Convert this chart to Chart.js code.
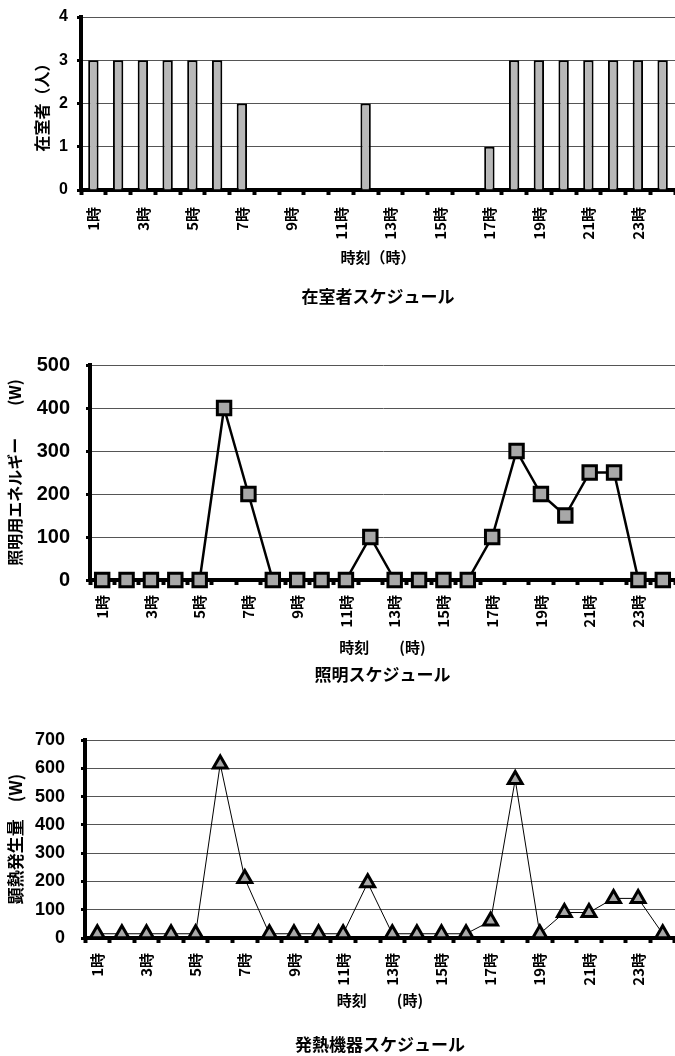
<!DOCTYPE html>
<html lang="ja">
<head>
<meta charset="utf-8">
<script src="https://cdn.jsdelivr.net/npm/chart.js@4.4.1/dist/chart.umd.min.js"></script>
<style>
  html, body { margin: 0; padding: 0; background: #fff; }
  body { width: 675px; height: 1056px; position: relative; overflow: hidden; }
  canvas { position: absolute; left: 0; }
</style>
</head>
<body>
<canvas id="occChart" width="675" height="310" style="top:0px"></canvas>
<canvas id="lightChart" width="675" height="350" style="top:340px"></canvas>
<canvas id="heatChart" width="675" height="331" style="top:725px"></canvas>
<script>
// 時刻（1時〜24時）
const hours = ['1時', '2時', '3時', '4時', '5時', '6時', '7時', '8時', '9時', '10時', '11時', '12時',
               '13時', '14時', '15時', '16時', '17時', '18時', '19時', '20時', '21時', '22時', '23時', '24時'];

// 在室者（人）
const occupants = [3, 3, 3, 3, 3, 3, 2, 0, 0, 0, 0, 2, 0, 0, 0, 0, 1, 3, 3, 3, 3, 3, 3, 3];

// 照明用エネルギー（W）
const lighting = [0, 0, 0, 0, 0, 400, 200, 0, 0, 0, 0, 100, 0, 0, 0, 0, 100, 300, 200, 150, 250, 250, 0, 0];

// 顕熱発生量（W）
const heat = [15, 15, 15, 15, 15, 615, 210, 15, 15, 15, 15, 195, 15, 15, 15, 15, 60, 560, 15, 90, 90, 140, 140, 15];

// 軸の範囲 [最大, 目盛間隔]
const occRange = [4, 1];
const lightRange = [500, 100];
const heatRange = [700, 100];

const JP = "'Noto Sans CJK JP', sans-serif";
const NUM = "'Liberation Sans', Arial, sans-serif";

Chart.defaults.color = '#000';

// 横軸（奇数時のみラベル表示）
function xAxis(height, titleText, titlePad, tickPad) {
    return {
        offset: true,
        afterFit: scale => {
            scale.height = height;
            scale.paddingLeft = 0;
            scale.paddingRight = 0;
        },
        border: { color: '#000', width: 4 },
        grid: {
            offset: true,
            drawOnChartArea: false,
            tickLength: 5,
            tickWidth: 4,
            tickColor: '#000'
        },
        ticks: {
            autoSkip: false,
            minRotation: 90,
            maxRotation: 90,
            padding: tickPad,
            font: { family: JP, size: 15, weight: 'bold' },
            callback: (value, index) => index % 2 === 0 ? hours[index] : ''
        },
        title: {
            display: true,
            text: titleText,
            font: { family: JP, size: 15, weight: 'bold' },
            padding: { top: 0, bottom: titlePad }
        }
    };
}

// 縦軸
function yAxis(range, width, tickSize, tickPad, titleText, titleSize, titlePad) {
    return {
        min: 0,
        max: range[0],
        afterFit: scale => {
            scale.width = width;
            scale.paddingTop = 0;
            scale.paddingBottom = 0;
        },
        border: { color: '#000', width: 4 },
        grid: {
            color: '#555',
            lineWidth: 1,
            tickLength: 4,
            tickWidth: 3,
            tickColor: '#000'
        },
        ticks: {
            stepSize: range[1],
            padding: tickPad,
            font: { family: NUM, size: tickSize, weight: 'bold' }
        },
        title: {
            display: true,
            text: titleText,
            font: { family: JP, size: titleSize, weight: 'bold' },
            padding: { top: titlePad, bottom: 0 }
        }
    };
}

function bottomTitle(text, padBottom) {
    return {
        display: true,
        position: 'bottom',
        fullSize: false,
        text: text,
        color: '#000',
        font: { family: JP, size: 17, weight: 'bold' },
        padding: { top: 0, bottom: padBottom }
    };
}

// 在室者スケジュール
new Chart(document.getElementById('occChart'), {
    type: 'bar',
    data: {
        labels: hours,
        datasets: [{
            data: occupants,
            backgroundColor: '#b8b8b8',
            borderColor: '#000',
            borderWidth: 2,
            barPercentage: 0.42,
            categoryPercentage: 1
        }]
    },
    options: {
        responsive: false,
        animation: false,
        devicePixelRatio: 1,
        layout: { autoPadding: false, padding: { top: 17, right: 0, left: 0, bottom: 0 } },
        plugins: {
            legend: { display: false },
            tooltip: { enabled: false },
            title: bottomTitle('在室者スケジュール', 3)
        },
        scales: {
            x: xAxis(96.6, '時刻（時）', 20.6, 12),
            y: yAxis(occRange, 81, 16, 9, '在室者（人）', 16, 32)
        }
    }
});

// 照明スケジュール
new Chart(document.getElementById('lightChart'), {
    type: 'line',
    data: {
        labels: hours,
        datasets: [{
            data: lighting,
            borderColor: '#000',
            borderWidth: 2.5,
            pointStyle: 'rect',
            pointRadius: 9.5,
            pointBackgroundColor: '#a8a8a8',
            pointBorderColor: '#000',
            pointBorderWidth: 3,
            tension: 0,
            clip: false
        }]
    },
    options: {
        responsive: false,
        animation: false,
        devicePixelRatio: 1,
        layout: { autoPadding: false, padding: { top: 25, right: 0, left: 0, bottom: 0 } },
        plugins: {
            legend: { display: false },
            tooltip: { enabled: false },
            title: bottomTitle('照明スケジュール', 4.8)
        },
        scales: {
            x: xAxis(84.8, '時刻　　(時)', 8.8, 10),
            y: yAxis(lightRange, 90, 20, 16, '照明用エネルギー　　(W)', 16, 5)
        }
    }
});

// 発熱機器スケジュール
new Chart(document.getElementById('heatChart'), {
    type: 'line',
    data: {
        labels: hours,
        datasets: [{
            data: heat,
            borderColor: '#000',
            borderWidth: 1,
            pointStyle: 'triangle',
            pointRadius: 8,
            pointBackgroundColor: '#a8a8a8',
            pointBorderColor: '#000',
            pointBorderWidth: 3,
            tension: 0,
            clip: false
        }]
    },
    options: {
        responsive: false,
        animation: false,
        devicePixelRatio: 1,
        layout: { autoPadding: false, padding: { top: 15, right: 0, left: 0, bottom: 0 } },
        plugins: {
            legend: { display: false },
            tooltip: { enabled: false },
            title: bottomTitle('発熱機器スケジュール', 0.8)
        },
        scales: {
            x: xAxis(96.8, '時刻　　(時)', 25.8, 10),
            y: yAxis(heatRange, 85, 18, 16, '顕熱発生量　(W)', 17, 5)
        }
    }
});
</script>
</body>
</html>
